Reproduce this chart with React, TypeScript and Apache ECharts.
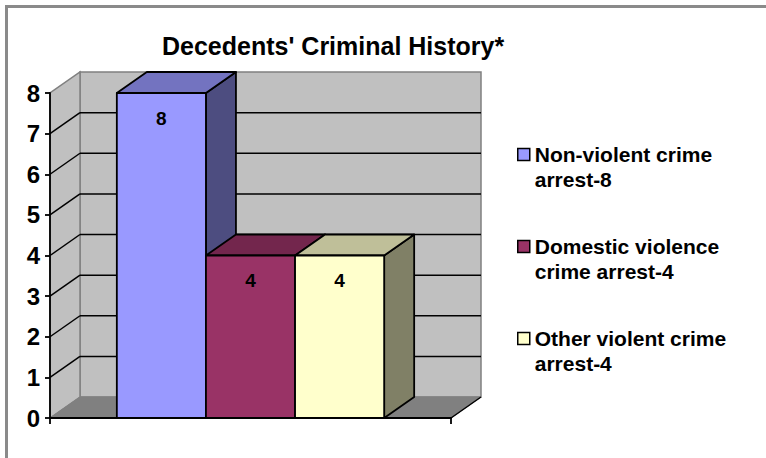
import React, { useEffect, useRef } from "react";
import * as echarts from "echarts";

const categories = ["Decedents"];
const seriesNames = [
  "Non-violent crime\narrest-8",
  "Domestic violence\ncrime arrest-4",
  "Other violent crime\narrest-4",
];
const seriesValues = [8, 4, 4];
const yTicks = [0, 1, 2, 3, 4, 5, 6, 7, 8];
const frontColors = ["#9999FF", "#993366", "#FFFFCC"];
const topColors = ["#7373C0", "#73264D", "#BFBF99"];
const sideColors = ["#4D4D80", "#4D1A33", "#808066"];

const FONT = '"Liberation Sans", Arial, sans-serif';
const DX = 30;
const DY = -21;

export default function App() {
  const ref = useRef<HTMLDivElement>(null);
  useEffect(() => {
    if (!ref.current) return;
    const chart = echarts.init(ref.current, null, { renderer: "svg" });
    const yMax = yTicks[yTicks.length - 1];

    const wallSeries = {
      type: "custom",
      name: "walls",
      z: 1,
      silent: true,
      data: [[0, 0]],
      encode: { x: 0, y: 1 },
      renderItem: (params: any, api: any) => {
        const c = api.coord([0, 0]);
        const band = api.size([1, 0])[0];
        const L = c[0] - band / 2;
        const R = c[0] + band / 2;
        const y0 = c[1];
        const yT = api.coord([0, yMax])[1];
        const children: any[] = [];
        children.push({
          type: "polygon",
          shape: { points: [[L + DX, yT + DY], [R + DX, yT + DY], [R + DX, y0 + DY], [L + DX, y0 + DY]] },
          style: { fill: "#C0C0C0", stroke: "#808080", lineWidth: 1.5 },
        });
        children.push({
          type: "polygon",
          shape: { points: [[L, y0], [L + DX, y0 + DY], [L + DX, yT + DY], [L, yT]] },
          style: { fill: "#C0C0C0", stroke: "#808080", lineWidth: 1.5 },
        });
        children.push({
          type: "polygon",
          shape: { points: [[L, y0], [R, y0], [R + DX, y0 + DY], [L + DX, y0 + DY]] },
          style: { fill: "#808080", stroke: "#808080", lineWidth: 1 },
        });
        children.push({
          type: "line",
          shape: { x1: R, y1: y0, x2: R + DX, y2: y0 + DY },
          style: { stroke: "#000", lineWidth: 1.5 },
        });
        yTicks.forEach((v) => {
          if (v === 0 || v === yMax) return;
          const y = api.coord([0, v])[1];
          children.push({
            type: "line",
            shape: { x1: L + DX, y1: y + DY, x2: R + DX, y2: y + DY },
            style: { stroke: "#000", lineWidth: 1.5 },
          });
          children.push({
            type: "line",
            shape: { x1: L, y1: y, x2: L + DX, y2: y + DY },
            style: { stroke: "#000", lineWidth: 1.5 },
          });
        });
        return { type: "group", children };
      },
    };

    const barSeries = seriesNames.map((name, idx) => ({
      type: "custom",
      name,
      z: 2 + idx,
      data: [[0, seriesValues[idx]]],
      encode: { x: 0, y: 1 },
      itemStyle: { color: frontColors[idx], borderColor: "#000", borderWidth: 1.5 },
      renderItem: (params: any, api: any) => {
        const v = api.value(1);
        const c = api.coord([api.value(0), 0]);
        const band = api.size([1, 0])[0];
        const w = band / 4.5;
        const x0 = c[0] - 1.5 * w + idx * w;
        const y0 = c[1];
        const yv = api.coord([api.value(0), v])[1];
        const stroke = { stroke: "#000", lineWidth: 1.8, lineJoin: "round" };
        return {
          type: "group",
          children: [
            {
              type: "polygon",
              shape: { points: [[x0 + w, yv], [x0 + w + DX, yv + DY], [x0 + w + DX, y0 + DY], [x0 + w, y0]] },
              style: { fill: sideColors[idx], ...stroke },
            },
            {
              type: "polygon",
              shape: { points: [[x0, yv], [x0 + w, yv], [x0 + w + DX, yv + DY], [x0 + DX, yv + DY]] },
              style: { fill: topColors[idx], ...stroke },
            },
            {
              type: "rect",
              shape: { x: x0, y: yv, width: w, height: y0 - yv },
              style: { fill: frontColors[idx], ...stroke },
            },
            {
              type: "text",
              x: x0 + w / 2,
              y: yv + 25,
              style: {
                text: String(v),
                fill: "#000",
                font: `bold 19px ${FONT}`,
                align: "center",
                verticalAlign: "middle",
              },
            },
          ],
        };
      },
    }));

    chart.setOption({
      animation: false,
      backgroundColor: "#FFFFFF",
      title: {
        text: "Decedents' Criminal History*",
        left: 162,
        top: 33,
        padding: 0,
        textStyle: { fontFamily: FONT, fontWeight: "bold", fontSize: 25, color: "#000" },
      },
      graphic: [
        {
          type: "rect",
          shape: { x: 6.5, y: 6.5, width: 820, height: 520 },
          style: { fill: "none", stroke: "#8A8A8A", lineWidth: 3 },
          silent: true,
          z: 100,
        },
      ],
      legend: {
        orient: "vertical",
        left: 517,
        top: 117,
        padding: 0,
        itemWidth: 12,
        itemHeight: 12,
        itemGap: 17,
        icon: "rect",
        selectedMode: false,
        data: seriesNames,
        formatter: (n: string) => "\n" + n,
        itemStyle: { borderColor: "#000", borderWidth: 1.5 },
        textStyle: { fontFamily: FONT, fontWeight: "bold", fontSize: 21, color: "#000", lineHeight: 25 },
      },
      grid: { left: 50, right: 315, top: 93, bottom: 40 },
      xAxis: {
        type: "category",
        data: categories,
        z: 10,
        axisLine: { show: true, lineStyle: { color: "#000", width: 1.8 } },
        axisTick: { show: true, length: 6, lineStyle: { color: "#000", width: 1.8 } },
        axisLabel: { show: false },
        splitLine: { show: false },
      },
      yAxis: {
        type: "value",
        min: 0,
        max: yMax,
        interval: 1,
        z: 10,
        axisLine: { show: true, lineStyle: { color: "#000", width: 1.8 } },
        axisTick: { show: true, length: 5, lineStyle: { color: "#000", width: 1.8 } },
        axisLabel: {
          margin: 10,
          fontFamily: FONT,
          fontWeight: "bold",
          fontSize: 24,
          color: "#000",
        },
        splitLine: { show: false },
      },
      series: [wallSeries, ...barSeries],
    });
    return () => chart.dispose();
  }, []);
  return (
    <div
      ref={ref}
      style={{ position: "fixed", left: 0, top: 0, width: 766, height: 458, background: "#fff" }}
    />
  );
}
